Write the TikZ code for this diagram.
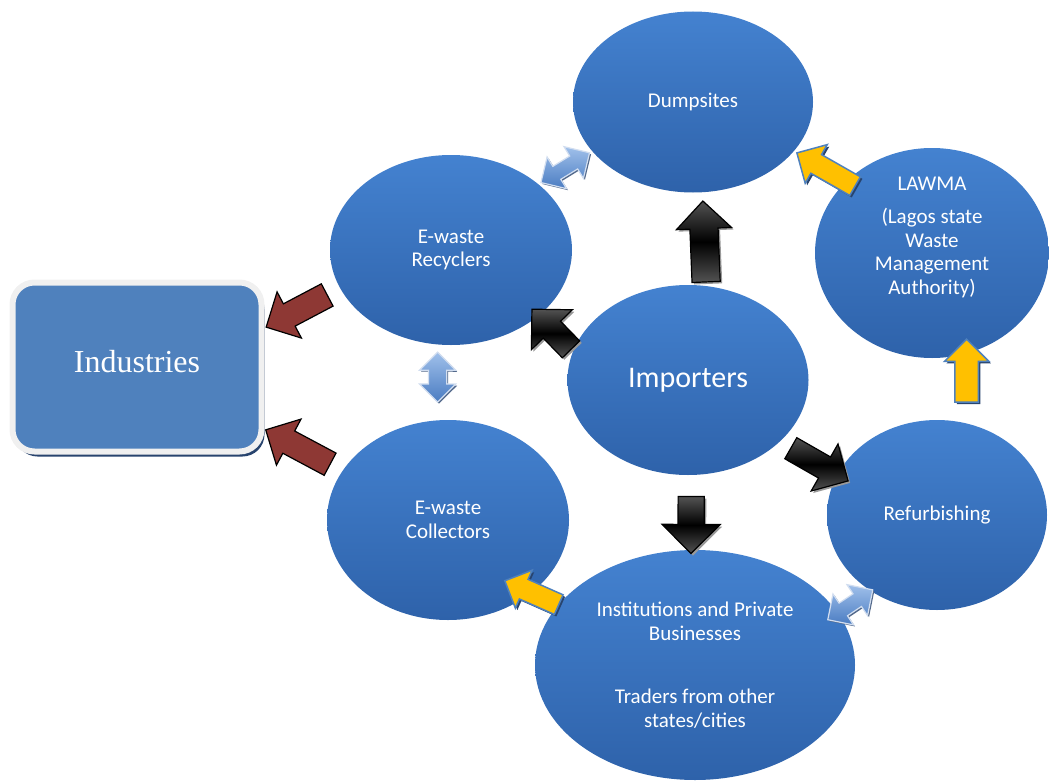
\documentclass[tikz,border=0pt]{standalone}
\usepackage{fontspec}
\setmainfont{Carlito}
\newfontfamily\indfont{Liberation Serif}
\usetikzlibrary{shapes.geometric,shapes.arrows,shadows}
\definecolor{ewtop}{RGB}{68,130,208}
\definecolor{ewbot}{RGB}{46,98,170}
\definecolor{indfill}{RGB}{79,129,189}
\definecolor{indshade}{RGB}{40,68,110}
\definecolor{ewred}{RGB}{142,56,52}
\definecolor{ewyellow}{RGB}{255,192,0}
\definecolor{ewedge}{RGB}{79,129,189}
\definecolor{ewlight}{RGB}{160,192,234}
\definecolor{ewmid}{RGB}{74,124,194}

\tikzset{
  bubble/.style={ellipse, top color=ewtop, bottom color=ewbot, text=white, align=center,
    inner sep=0pt, font=\fontsize{21}{23.5}\selectfont},
  indbox/.style={rectangle, rounded corners=22pt, draw=white!94!black, line width=6pt,
    fill=indfill, text=white, font=\indfont\fontsize{32}{36}\selectfont,
    drop shadow={shadow xshift=3pt, shadow yshift=-5pt, fill=indshade, opacity=1}},
  fat/.style n args={3}{single arrow, minimum height=#1, inner xsep=0pt, inner ysep=#2,
    single arrow head extend=#3, single arrow head indent=0pt, sloped, allow upside down},
  twin/.style n args={3}{double arrow, minimum height=#1, inner xsep=0pt, inner ysep=#2,
    double arrow head extend=#3, double arrow head indent=0pt, sloped, allow upside down},
  blackarr/.style={draw=black, line width=1.2pt, top color=gray!65!black,
    bottom color=gray!65!black, middle color=black,
    drop shadow={shadow xshift=2pt, shadow yshift=-2pt, fill=gray!80, opacity=1}},
  redarr/.style={draw=black, line width=1.2pt, fill=ewred},
  yelarr/.style={draw=ewedge, line width=1.5pt, fill=ewyellow,
    drop shadow={shadow xshift=2pt, shadow yshift=-2pt, fill=indshade, opacity=1}},
  bluearr/.style={draw=white!75!ewmid, line width=1.2pt, top color=ewlight, bottom color=ewmid,
    drop shadow={shadow xshift=1.5pt, shadow yshift=-1.5pt, fill=indshade!80, opacity=1}}
}

\begin{document}
\begin{tikzpicture}[x=1pt,y=-1pt]
\useasboundingbox (0,0) rectangle (1049,781);

% the actors
\node[bubble, minimum width=240pt, minimum height=181pt] (dump) at (693,102) {Dumpsites};
\node[bubble, minimum width=242pt, minimum height=190pt] (rec) at (451,250) {E-waste\\Recyclers};
\node[bubble, minimum width=234pt, minimum height=210pt] (law) at (932,253) {};
\node[text=white, align=center, font=\fontsize{21}{23.5}\selectfont] (lawtxt)
  at ([yshift=16pt]law.center) {LAWMA\\[10pt](Lagos state\\Waste\\Management\\Authority)};
\node[bubble, minimum width=241pt, minimum height=190pt, font=\fontsize{30}{34}\selectfont]
  (imp) at (688,380) {Importers};
\node[bubble, minimum width=242pt, minimum height=200pt] (col) at (448,520) {E-waste\\Collectors};
\node[bubble, minimum width=220pt, minimum height=190pt] (ref) at (937,515) {Refurbishing};
\node[bubble, minimum width=320pt, minimum height=230pt] (inst) at (695,665)
  {Institutions and Private\\Businesses\\[40pt]Traders from other\\states/cities};
\node[indbox, minimum width=249pt, minimum height=169pt] (ind) at (137,367)
  {\raisebox{12pt}{Industries}};

% flows out of the importers
\path (imp.79) -- (dump.-84) node[fat={81pt}{13.5pt}{13.5pt}, blackarr, pos=.4] {};
\path (imp.166) -- (rec.-37) node[fat={56pt}{11.5pt}{16.5pt}, blackarr, pos=.5] {};
\path (imp.-34) -- (ref.158) node[fat={66pt}{11.5pt}{15pt}, blackarr, pos=.6] {};
\path (imp.-88) -- (inst.92) node[fat={57pt}{12.5pt}{16pt}, blackarr, pos=.58] {};

% towards the industries
\path (rec.199) -- (ind.17) node[fat={69pt}{12pt}{13.5pt}, redarr, pos=.5] {};
\path (col.155) -- (ind.-26) node[fat={73pt}{12pt}{13.5pt}, redarr, pos=.5] {};

% yellow flows
\path (law.140) -- (dump.-26) node[fat={67pt}{10pt}{11.5pt}, yelarr, pos=.3] {};
\path (ref.72) -- (law.-71) node[fat={63pt}{11pt}{10.5pt}, yelarr, pos=.67] {};
\path (inst) -- (col.-41.5) node[fat={59pt}{10pt}{10pt}, yelarr, pos=.81] {};

% two way links
\path (rec.37) -- (dump.206) node[twin={57pt}{7pt}{11pt}, bluearr, pos=.5] {};
\path (rec.-98) -- (col.96) node[twin={50pt}{8.5pt}{9pt}, bluearr, pos=.43] {};
\path (inst.20) -- (ref.229) node[twin={54pt}{7pt}{11pt}, bluearr, pos=.375] {};
\end{tikzpicture}
\end{document}
